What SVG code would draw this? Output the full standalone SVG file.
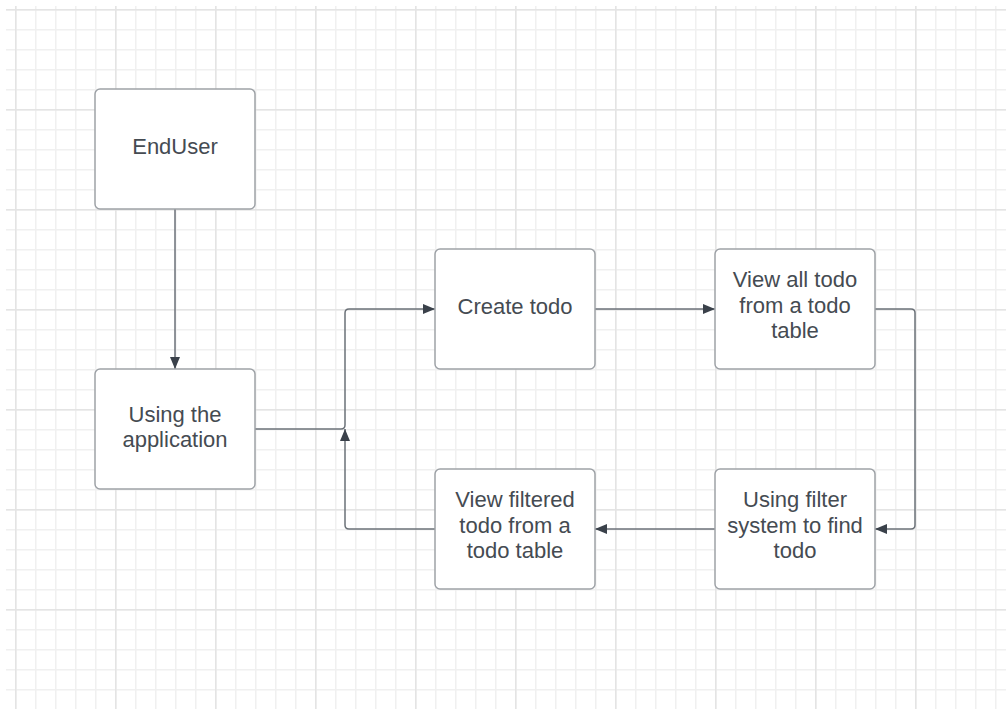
<svg xmlns="http://www.w3.org/2000/svg" width="1006" height="709" viewBox="0 0 1006 709">
<defs>
<pattern id="minor" patternUnits="userSpaceOnUse" x="15" y="9" width="20" height="20">
<path d="M0 0.75H20M0.75 0V20" stroke="#f0f0f0" stroke-width="1.5" fill="none"/>
</pattern>
<pattern id="major" patternUnits="userSpaceOnUse" x="15" y="9" width="100" height="100">
<path d="M0 0.75H100M0.75 0V100" stroke="#e4e4e4" stroke-width="1.5" fill="none"/>
</pattern>
<marker id="arr" viewBox="0 0 12 10" refX="12" refY="5" markerWidth="12" markerHeight="10" markerUnits="userSpaceOnUse" orient="auto">
<path d="M0 0L12 5L0 10Z" fill="#3a414a"/>
</marker>
<style>
.box{fill:#ffffff;stroke:#9ea2a7;stroke-width:1.5}
.lbl{font-family:"Liberation Sans",Arial,sans-serif;font-size:22px;fill:#454b52;text-anchor:middle}
.con{fill:none;stroke:#6b7178;stroke-width:1.5;marker-end:url(#arr)}
</style>
</defs>
<rect x="0" y="0" width="1006" height="709" fill="#ffffff"/>
<rect x="6" y="6" width="1000" height="703" fill="url(#minor)"/>
<rect x="6" y="6" width="1000" height="703" fill="url(#major)"/>
<g id="connectors">
<path class="con" d="M175 209V369"/>
<path class="con" d="M255 429H341Q345 429 345 425V313Q345 309 349 309H435"/>
<path class="con" d="M595 309H715"/>
<path class="con" d="M875 309H911Q915 309 915 313V525Q915 529 911 529H875"/>
<path class="con" d="M715 529H595"/>
<path class="con" d="M435 529H349Q345 529 345 525V429"/>
</g>
<g id="enduser">
<rect class="box" x="95" y="89" width="160" height="120" rx="5"/>
<text class="lbl" x="175" y="154">EndUser</text>
</g>
<g id="using-app">
<rect class="box" x="95" y="369" width="160" height="120" rx="5"/>
<text class="lbl" x="175" y="421.5">Using the</text>
<text class="lbl" x="175" y="447">application</text>
</g>
<g id="create-todo">
<rect class="box" x="435" y="249" width="160" height="120" rx="5"/>
<text class="lbl" x="515" y="314">Create todo</text>
</g>
<g id="view-all">
<rect class="box" x="715" y="249" width="160" height="120" rx="5"/>
<text class="lbl" x="795" y="287">View all todo</text>
<text class="lbl" x="795" y="312.5">from a todo</text>
<text class="lbl" x="795" y="338">table</text>
</g>
<g id="using-filter">
<rect class="box" x="715" y="469" width="160" height="120" rx="5"/>
<text class="lbl" x="795" y="507">Using filter</text>
<text class="lbl" x="795" y="532.5">system to find</text>
<text class="lbl" x="795" y="558">todo</text>
</g>
<g id="view-filtered">
<rect class="box" x="435" y="469" width="160" height="120" rx="5"/>
<text class="lbl" x="515" y="507">View filtered</text>
<text class="lbl" x="515" y="532.5">todo from a</text>
<text class="lbl" x="515" y="558">todo table</text>
</g>
</svg>
